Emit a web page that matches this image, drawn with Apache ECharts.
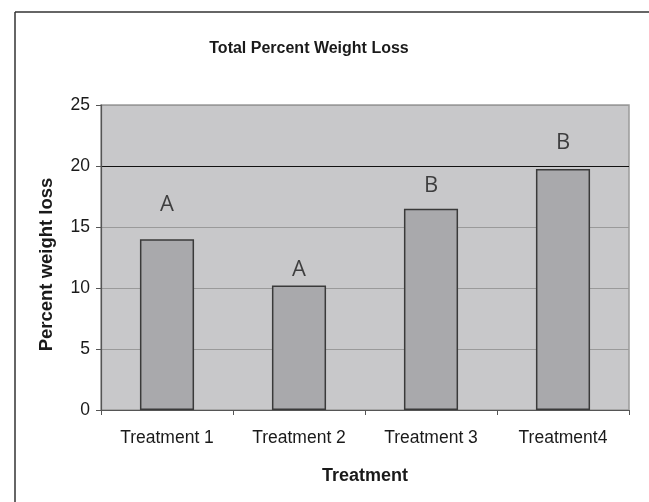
<!DOCTYPE html>
<html>
<head>
<meta charset="utf-8">
<script src="https://cdn.jsdelivr.net/npm/echarts@6/dist/echarts.min.js"></script>
<style>
html,body{margin:0;padding:0;background:#fff;}
#main{width:649px;height:502px;}
</style>
</head>
<body>
<div id="main"></div>
<script>
const categories = ['Treatment 1', 'Treatment 2', 'Treatment 3', 'Treatment4'];
const weightLoss = [14.0, 10.2, 16.5, 19.75];
const groupLetters = ['A', 'A', 'B', 'B'];
const letterHeights = [16.8, 11.5, 18.4, 21.9];
const yTicks = [0, 5, 10, 15, 20, 25];

const chart = echarts.init(document.getElementById('main'), null, {renderer: 'canvas'});
const font = '"Liberation Sans", Arial, sans-serif';

chart.setOption({
  animation: false,
  backgroundColor: '#ffffff',
  title: {
    text: 'Total Percent Weight Loss',
    left: 304, top: 36, textAlign: 'center',
    textStyle: {fontFamily: font, fontSize: 16, fontWeight: 'bold', color: '#1a1a1a'}
  },
  graphic: [
    {type: 'line', shape: {x1: 15, y1: 12, x2: 649, y2: 12}, style: {stroke: '#333', lineWidth: 1.5}, silent: true},
    {type: 'line', shape: {x1: 15, y1: 12, x2: 15, y2: 502}, style: {stroke: '#333', lineWidth: 1.5}, silent: true},
    {type: 'text', x: 47, y: 264.5, rotation: Math.PI / 2, silent: true,
     style: {text: 'Percent weight loss', textAlign: 'center', textVerticalAlign: 'middle',
             font: 'bold 18.5px "Liberation Sans", Arial, sans-serif', fill: '#1a1a1a'}}
  ],
  grid: {
    left: 101, top: 105, right: 20, bottom: 92,
    show: true, backgroundColor: '#c8c8ca', borderColor: '#9a9a9a', borderWidth: 1.5
  },
  xAxis: {
    type: 'category',
    data: categories,
    name: 'Treatment',
    nameLocation: 'middle',
    nameGap: 57,
    nameTextStyle: {fontFamily: font, fontSize: 18, fontWeight: 'bold', color: '#1a1a1a'},
    axisLine: {lineStyle: {color: '#555', width: 1}},
    axisTick: {show: true, alignWithLabel: false, length: 5, lineStyle: {color: '#555'}},
    axisLabel: {fontFamily: font, fontSize: 17.5, color: '#1a1a1a', margin: 19}
  },
  yAxis: {
    type: 'value',
    min: yTicks[0], max: yTicks[yTicks.length - 1], interval: 5,
    axisLine: {show: true, lineStyle: {color: '#555', width: 1.2}},
    axisTick: {show: true, length: 5, lineStyle: {color: '#555'}},
    axisLabel: {fontFamily: font, fontSize: 17.5, color: '#1a1a1a', margin: 11},
    splitLine: {show: true, lineStyle: {color: ['#9a9a9a', '#9a9a9a', '#9a9a9a', '#9a9a9a', '#111111', '#9a9a9a'], width: 1}}
  },
  series: [
    {
      type: 'bar',
      data: weightLoss,
      barWidth: '41%',
      itemStyle: {color: '#a9a9ac', borderColor: '#3a3a3a', borderWidth: 1.5},
      z: 2
    },
    {
      type: 'scatter',
      data: letterHeights,
      symbolSize: 0,
      z: 3,
      label: {
        show: true,
        position: 'inside',
        formatter: p => groupLetters[p.dataIndex],
        fontFamily: '"Open Sans", sans-serif',
        fontSize: 22,
        color: '#1a1a1a'
      }
    }
  ]
});
</script>
</body>
</html>
